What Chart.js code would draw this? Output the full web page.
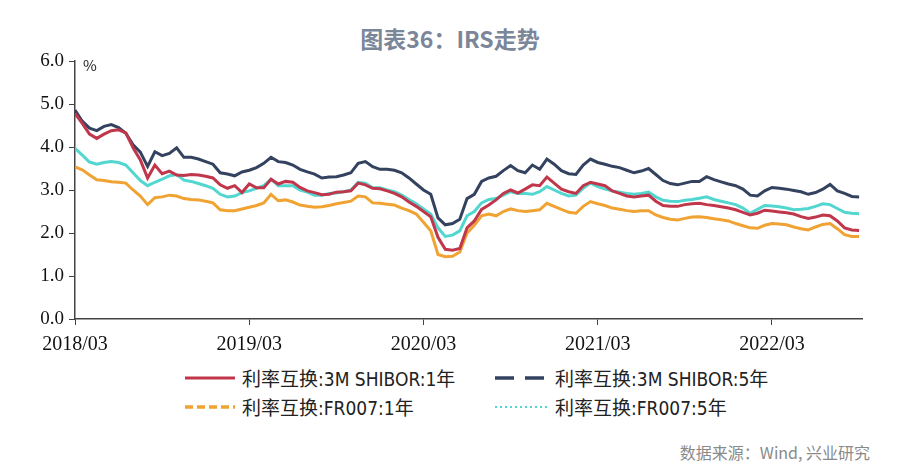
<!DOCTYPE html>
<html lang="zh-CN">
<head>
<meta charset="UTF-8">
<title>图表36：IRS走势</title>
<script src="https://cdn.jsdelivr.net/npm/chart.js@4"></script>
<style>
  body { margin: 0; width: 900px; height: 473px; background: #fff; position: relative; overflow: hidden;
         font-family: "Noto Sans CJK SC", "Noto Sans", sans-serif; }
  .title { position: absolute; top: 21px; left: 0; width: 900px; text-align: center;
           font-size: 23px; font-weight: 600; color: #7b8699; }
  #wrap { position: absolute; left: 0; top: 0; }
  .unit { position: absolute; left: 83px; top: 54px; font-size: 15px; color: #222; }
  .legend { position: absolute; font-family: "DejaVu Sans Condensed", "Noto Sans CJK SC", sans-serif;
            font-size: 19px; color: #222; display: flex; align-items: center; white-space: nowrap; }
  .legend svg { margin-right: 7px; }
  .source { position: absolute; right: 30px; top: 440px; font-size: 16px; color: #8a8a8a; }
</style>
</head>
<body>
<div class="title">图表36：IRS走势</div>
<div id="wrap"><canvas id="irsChart" width="900" height="360"></canvas></div>
<div class="unit">%</div>

<div class="legend" style="left:185px; top:364px;">
  <svg width="50" height="8"><line x1="0" y1="4" x2="50" y2="4" stroke="#c0364b" stroke-width="3"/></svg>利率互换:3M SHIBOR:1年
</div>
<div class="legend" style="left:495px; top:364px;">
  <svg width="53" height="8"><line x1="0" y1="4" x2="53" y2="4" stroke="#33425f" stroke-width="3.5" stroke-dasharray="19 11"/></svg>利率互换:3M SHIBOR:5年
</div>
<div class="legend" style="left:185px; top:393px;">
  <svg width="50" height="8"><line x1="0" y1="4" x2="50" y2="4" stroke="#f0a232" stroke-width="3.5" stroke-dasharray="8 4"/></svg>利率互换:FR007:1年
</div>
<div class="legend" style="left:495px; top:393px;">
  <svg width="53" height="8"><line x1="0" y1="4" x2="53" y2="4" stroke="#52d6d0" stroke-width="2" stroke-dasharray="2 3"/></svg>利率互换:FR007:5年
</div>
<div class="source">数据来源：Wind, 兴业研究</div>

<script>
  // half-month steps from 2018/03
  const stepMonths = 0.5;
  const xTickPos = [0, 12, 24, 36, 48];
  const xTickLabels = ['2018/03', '2019/03', '2020/03', '2021/03', '2022/03'];
  const yTicks = [0, 1, 2, 3, 4, 5, 6];

  const shibor1y = [4.78,4.55,4.30,4.20,4.30,4.38,4.40,4.33,3.98,3.70,3.28,3.58,3.38,3.44,3.35,3.34,3.36,3.35,3.32,3.28,
    3.12,3.04,3.10,2.94,3.14,3.05,3.05,3.25,3.14,3.20,3.18,3.06,2.98,2.94,2.89,2.90,2.95,2.96,2.98,3.16,
    3.12,3.04,3.03,2.98,2.92,2.84,2.72,2.62,2.50,2.38,1.90,1.62,1.60,1.64,2.12,2.28,2.55,2.65,2.77,2.92,
    3.00,2.93,3.02,3.12,3.10,3.30,3.16,3.02,2.96,2.92,3.10,3.18,3.14,3.10,2.98,2.92,2.86,2.84,2.86,2.88,
    2.74,2.64,2.62,2.62,2.66,2.68,2.69,2.66,2.64,2.61,2.58,2.54,2.48,2.42,2.46,2.53,2.51,2.49,2.47,2.44,
    2.38,2.34,2.37,2.42,2.40,2.28,2.12,2.07,2.06];
  const shibor5y = [4.86,4.60,4.44,4.38,4.48,4.52,4.45,4.32,4.05,3.88,3.55,3.89,3.80,3.85,3.98,3.76,3.76,3.72,3.66,3.60,
    3.40,3.37,3.33,3.42,3.46,3.52,3.62,3.76,3.66,3.64,3.58,3.48,3.42,3.37,3.28,3.30,3.31,3.35,3.40,3.62,
    3.66,3.54,3.48,3.48,3.46,3.40,3.28,3.14,3.00,2.90,2.35,2.19,2.22,2.32,2.80,2.90,3.20,3.28,3.32,3.45,
    3.57,3.45,3.40,3.58,3.48,3.72,3.60,3.45,3.38,3.36,3.58,3.72,3.64,3.60,3.55,3.52,3.46,3.40,3.44,3.50,
    3.36,3.22,3.15,3.12,3.16,3.20,3.20,3.31,3.24,3.19,3.14,3.10,3.02,2.88,2.86,2.98,3.06,3.04,3.02,2.99,
    2.96,2.90,2.94,3.02,3.13,2.98,2.92,2.85,2.84];
  const fr007_1y = [3.54,3.47,3.35,3.24,3.22,3.19,3.18,3.16,3.00,2.86,2.66,2.82,2.84,2.88,2.86,2.80,2.78,2.77,2.74,2.70,
    2.54,2.52,2.52,2.56,2.60,2.64,2.70,2.90,2.75,2.77,2.72,2.65,2.62,2.60,2.61,2.64,2.68,2.71,2.74,2.86,
    2.84,2.70,2.69,2.67,2.65,2.58,2.52,2.44,2.25,2.05,1.50,1.45,1.46,1.56,2.00,2.18,2.40,2.44,2.40,2.50,
    2.56,2.52,2.50,2.52,2.54,2.69,2.62,2.55,2.48,2.46,2.62,2.73,2.68,2.64,2.58,2.55,2.52,2.50,2.52,2.52,
    2.42,2.36,2.32,2.30,2.34,2.37,2.38,2.36,2.33,2.31,2.28,2.22,2.17,2.12,2.11,2.18,2.22,2.21,2.19,2.14,
    2.10,2.07,2.14,2.20,2.22,2.10,1.96,1.92,1.92];
  const fr007_5y = [3.97,3.81,3.65,3.60,3.64,3.66,3.64,3.58,3.40,3.22,3.10,3.18,3.25,3.33,3.36,3.23,3.20,3.15,3.10,3.04,
    2.90,2.84,2.86,2.94,2.98,3.04,3.10,3.25,3.10,3.10,3.10,3.00,2.95,2.88,2.88,2.92,2.93,2.96,3.00,3.18,
    3.16,3.05,3.05,3.00,2.96,2.88,2.78,2.68,2.56,2.44,2.12,1.92,1.95,2.05,2.40,2.50,2.70,2.78,2.80,2.88,
    2.96,2.92,2.92,2.90,2.96,3.08,3.00,2.92,2.86,2.88,3.04,3.16,3.08,3.02,2.98,2.95,2.92,2.90,2.92,2.95,
    2.84,2.76,2.74,2.73,2.76,2.78,2.81,2.84,2.78,2.74,2.70,2.66,2.58,2.46,2.55,2.64,2.63,2.61,2.58,2.54,
    2.55,2.57,2.62,2.68,2.66,2.57,2.48,2.46,2.45];

  const toPoints = arr => arr.map((v, i) => ({ x: i * stepMonths, y: v }));

  const serif = 'Liberation Serif, Times New Roman, serif';

  new Chart(document.getElementById('irsChart'), {
    type: 'line',
    data: {
      datasets: [
        { label: '利率互换:3M SHIBOR:1年', data: toPoints(shibor1y), borderColor: '#c0364b', borderWidth: 3 },
        { label: '利率互换:3M SHIBOR:5年', data: toPoints(shibor5y), borderColor: '#33425f', borderWidth: 3 },
        { label: '利率互换:FR007:1年', data: toPoints(fr007_1y), borderColor: '#f0a232', borderWidth: 3 },
        { label: '利率互换:FR007:5年', data: toPoints(fr007_5y), borderColor: '#52d6d0', borderWidth: 3 }
      ]
    },
    options: {
      responsive: false,
      animation: false,
      devicePixelRatio: 1,
      elements: { point: { radius: 0 }, line: { tension: 0 } },
      layout: { padding: { top: 61, right: 38, left: 0, bottom: 0 } },
      plugins: { legend: { display: false }, tooltip: { enabled: false } },
      scales: {
        x: {
          type: 'linear',
          min: 0,
          max: 54.2,
          afterBuildTicks: scale => { scale.ticks = xTickPos.map(v => ({ value: v })); },
          afterFit: scale => { scale.height = 41; },
          ticks: {
            autoSkip: false,
            maxRotation: 0,
            padding: 8,
            color: '#111',
            font: { family: serif, size: 20 },
            callback: v => xTickLabels[xTickPos.indexOf(v)]
          },
          grid: { drawOnChartArea: false, tickLength: 6, color: '#444' },
          border: { color: '#444', width: 1.5 }
        },
        y: {
          min: 0,
          max: 6,
          afterBuildTicks: scale => { scale.ticks = yTicks.map(v => ({ value: v })); },
          afterFit: scale => { scale.width = 75; },
          ticks: {
            padding: 5,
            color: '#111',
            font: { family: serif, size: 19 },
            callback: v => v.toFixed(1)
          },
          grid: { drawOnChartArea: false, tickLength: 6, color: '#444' },
          border: { color: '#444', width: 1.5 }
        }
      }
    }
  });
</script>
</body>
</html>
